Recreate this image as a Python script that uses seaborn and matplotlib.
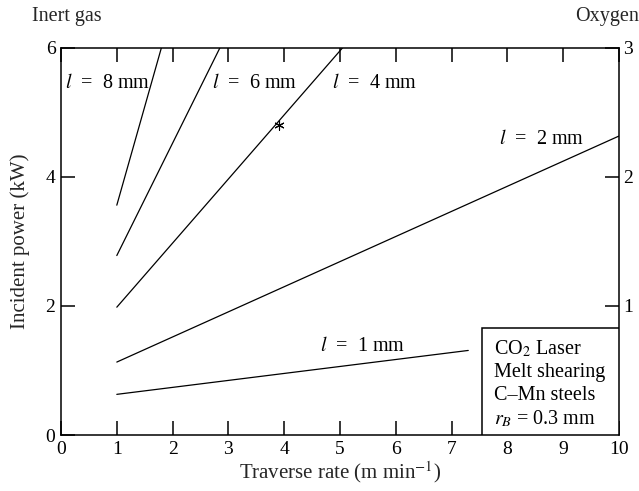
import matplotlib
matplotlib.use("Agg")
import matplotlib.pyplot as plt
import seaborn as sns
import pandas as pd

# Melt-shearing cut lines for each plate thickness l (mm): (traverse rate, incident power)
thickness = [1, 2, 4, 6, 8]
rate_start = [1.0, 1.0, 1.0, 1.0, 1.0]
rate_end = [7.3, 10.0, 5.05, 2.85, 1.8]
power_start = [0.63, 1.13, 1.98, 2.78, 3.56]
power_end = [1.31, 4.63, 6.0, 6.0, 6.0]

# Single marked point on the 4 mm line
star_rate = [3.9]
star_power = [4.8]

x_ticks = list(range(0, 11))
left_ticks = [0, 2, 4, 6]
right_ticks = [1, 2, 3]

rows = []
for t, x0, x1, y0, y1 in zip(thickness, rate_start, rate_end, power_start, power_end):
    rows.append({"l": t, "rate": x0, "power": y0})
    rows.append({"l": t, "rate": x1, "power": y1})
df = pd.DataFrame(rows)

sns.set_theme(style="ticks")
plt.rcParams["font.family"] = ["Liberation Serif", "DejaVu Serif"]
plt.rcParams["mathtext.fontset"] = "stix"

FS = 14.5

fig = plt.figure(figsize=(6.39, 4.91), dpi=100)
ax = fig.add_axes([0.0955, 0.114, 0.873, 0.789])

sns.lineplot(data=df, x="rate", y="power", hue="l", units="l", estimator=None,
             palette=["black"] * len(thickness), legend=False, linewidth=0.9, ax=ax)
ax.scatter(star_rate, star_power, marker=(6, 2, 0), s=45, color="black", linewidths=0.8, zorder=3)

ax.set_xlim(0, 10)
ax.set_ylim(0, 6)
ax.set_xticks(x_ticks)
ax.set_yticks(left_ticks)
ax.tick_params(axis="both", direction="in", length=10, width=1.1, labelsize=14,
               colors="black", pad=4)
ax.tick_params(axis="x", top=True)
for s in ax.spines.values():
    s.set_linewidth(1.1)
    s.set_color("black")
    s.set_visible(True)

ax.set_xlabel("Traverse rate (m min$^{-1}$)", fontsize=15, labelpad=1)
ax.set_ylabel("Incident power (kW)", fontsize=15, labelpad=11)

ax2 = ax.twinx()
ax2.set_ylim(0, 3)
ax2.set_yticks(right_ticks)
ax2.tick_params(axis="y", direction="in", length=10, width=1.1, labelsize=14, pad=3,
                colors="black")
for s in ax2.spines.values():
    s.set_visible(False)

# Line labels
label_kw = dict(fontsize=FS, color="black", va="center", ha="left")
ax.text(0.07, 5.45, "$l$  =  8 mm", **label_kw)
ax.text(2.7, 5.45, "$l$  =  6 mm", **label_kw)
ax.text(4.85, 5.45, "$l$  =  4 mm", **label_kw)
ax.text(7.85, 4.58, "$l$  =  2 mm", **label_kw)
ax.text(4.65, 1.37, "$l$  =  1 mm", **label_kw)

# Process conditions box (white fill hides the bottom ticks behind it)
box = plt.Rectangle((7.54, 0), 10 - 7.54, 1.66, facecolor="white", edgecolor="black",
                    linewidth=1.1, zorder=4)
ax.add_patch(box)
info = ["CO$_2$ Laser", "Melt shearing", "C\u2013Mn steels", "$r_B$ = 0.3 mm"]
for i, line in enumerate(info):
    ax.text(7.77, 1.34 - i * 0.365, line, fontsize=FS, va="center", ha="left",
            color="black", zorder=5)

fig.text(32 / 639, 1 - 17 / 491, "Inert gas", fontsize=FS, va="center", ha="left")
fig.text(639 / 639, 1 - 17 / 491, "Oxygen", fontsize=FS, va="center", ha="right")

fig.savefig("out.png", dpi=100, facecolor="white")
